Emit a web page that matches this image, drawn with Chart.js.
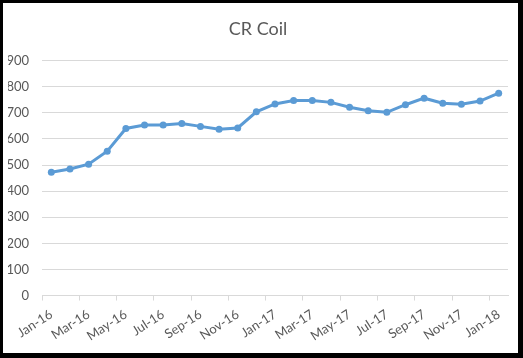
<!DOCTYPE html>
<html>
<head>
<meta charset="utf-8">
<script src="https://cdn.jsdelivr.net/npm/chart.js@4"></script>
<style>
  html, body { margin:0; padding:0; background:#fff; }
  #frame {
    position:absolute; left:0; top:0;
    width:515px; height:350px;
    border-style:solid; border-color:#000;
    border-width:3px 5px 5px 3px;
    background:#fff;
  }
  canvas { display:block; }
</style>
</head>
<body>
<div id="frame"><canvas id="chart" width="515" height="350"></canvas></div>
<script>
// months Jan-16 .. Jan-18
const months = ["Jan-16","Feb-16","Mar-16","Apr-16","May-16","Jun-16","Jul-16","Aug-16","Sep-16","Oct-16","Nov-16","Dec-16",
  "Jan-17","Feb-17","Mar-17","Apr-17","May-17","Jun-17","Jul-17","Aug-17","Sep-17","Oct-17","Nov-17","Dec-17","Jan-18"];
const crCoil = [472,485,503,553,640,653,653,659,648,637,642,704,
  734,747,747,740,721,708,702,731,756,737,733,745,775];
const yTicks = {min:0, max:900, step:100};

const grey = "#595959";
const lineBlue = "#5B9BD5";
const tickFont = { family: "Lato", size: 13 };

new Chart(document.getElementById("chart").getContext("2d"), {
  type: "line",
  data: {
    labels: months,
    datasets: [{
      label: "CR Coil",
      data: crCoil,
      borderColor: lineBlue,
      backgroundColor: lineBlue,
      borderWidth: 3,
      pointRadius: 3.5,
      pointBorderWidth: 0,
      tension: 0
    }]
  },
  options: {
    responsive: false,
    animation: false,
    layout: { padding: { left: 5, right: 10, top: 0, bottom: 3 } },
    plugins: {
      legend: { display: false },
      tooltip: { enabled: false },
      title: {
        display: true,
        text: "CR Coil",
        color: grey,
        font: { family: "Lato", size: 18, weight: "normal" },
        padding: { top: 15, bottom: 21 }
      }
    },
    scales: {
      x: {
        offset: true,
        afterFit: s => { s.paddingLeft = 0; },
        grid: {
          offset: true,
          drawOnChartArea: false,
          tickLength: 5,
          color: ctx => (ctx.index % 2 === 0 ? "#d9d9d9" : "rgba(0,0,0,0)")
        },
        border: { color: "#d9d9d9", width: 1 },
        ticks: {
          autoSkip: false,
          minRotation: 33,
          maxRotation: 33,
          padding: 6,
          color: grey,
          font: tickFont,
          callback: (v, i) => (i % 2 === 0 ? months[i] : "")
        }
      },
      y: {
        min: yTicks.min,
        max: yTicks.max,
        afterFit: s => { s.width = 34; },
        grid: { color: "#d9d9d9", drawTicks: false },
        border: { display: false },
        ticks: {
          stepSize: yTicks.step,
          padding: 13,
          color: grey,
          font: tickFont
        }
      }
    }
  }
});
</script>
</body>
</html>
